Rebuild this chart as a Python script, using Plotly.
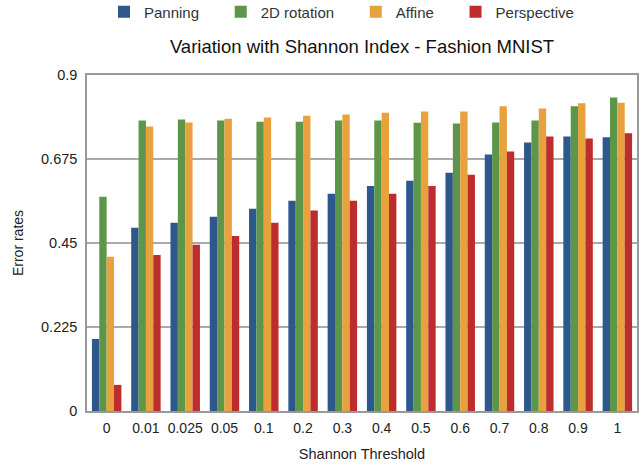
import plotly.graph_objects as go

categories = ["0", "0.01", "0.025", "0.05", "0.1", "0.2", "0.3", "0.4", "0.5", "0.6", "0.7", "0.8", "0.9", "1"]
panning = [0.193, 0.491, 0.504, 0.520, 0.542, 0.563, 0.582, 0.603, 0.617, 0.638, 0.687, 0.719, 0.735, 0.733]
rotation_2d = [0.574, 0.778, 0.781, 0.778, 0.775, 0.775, 0.778, 0.778, 0.772, 0.770, 0.773, 0.778, 0.816, 0.840]
affine = [0.413, 0.762, 0.773, 0.783, 0.786, 0.791, 0.794, 0.799, 0.802, 0.802, 0.816, 0.810, 0.824, 0.826]
perspective = [0.070, 0.418, 0.445, 0.469, 0.504, 0.537, 0.563, 0.582, 0.603, 0.633, 0.695, 0.735, 0.730, 0.744]

y_ticks = [0, 0.225, 0.45, 0.675, 0.9]
y_tick_labels = ["0", "0.225", "0.45", "0.675", "0.9"]

series = [
    ("Panning", panning, "#2E578C"),
    ("2D rotation", rotation_2d, "#5D9648"),
    ("Affine", affine, "#E7A13D"),
    ("Perspective", perspective, "#BD2D2E"),
]

font_family = "Liberation Sans, Arial, sans-serif"
pad = "\u00a0" * 4

W, H = 641, 465

fig = go.Figure()
for name, vals, color in series:
    fig.add_trace(go.Bar(
        x=categories, y=vals, name=name + pad,
        marker=dict(color=color, line=dict(width=0)),
    ))

fig.update_layout(
    width=W, height=H,
    margin=dict(l=87, r=2, t=75, b=54),
    barmode="group", bargap=0.25, bargroupgap=0,
    plot_bgcolor="white", paper_bgcolor="white",
    font=dict(family=font_family, color="#222222", size=14),
    title=dict(
        text="Variation with Shannon Index - Fashion MNIST",
        x=0.5, xref="paper", xanchor="center",
        y=1 - 47 / H, yref="container", yanchor="middle",
        font=dict(size=18.5, color="#111111"),
    ),
    legend=dict(
        orientation="h", xref="container", yref="container",
        x=104 / W, xanchor="left", y=1 - 12 / H, yanchor="middle",
        font=dict(size=15, color="#333333"),
        bgcolor="rgba(0,0,0,0)",
    ),
    xaxis=dict(
        type="category", showline=True, linecolor="#999999", linewidth=1.5,
        mirror=True, showgrid=False, ticks="", ticklabelstandoff=3,
        tickfont=dict(size=14, color="#222222"),
        title=dict(text="Shannon Threshold", font=dict(size=14.5, color="#222222"), standoff=14),
    ),
    yaxis=dict(
        range=[0, 0.9], tickvals=y_ticks, ticktext=y_tick_labels,
        showline=True, linecolor="#999999", linewidth=1.5, mirror=True,
        showgrid=True, gridcolor="#aaaaaa", gridwidth=1.5, zeroline=False,
        ticks="", ticklabelstandoff=5,
        tickfont=dict(size=14.5, color="#222222"),
        title=dict(text="Error rates", font=dict(size=14, color="#222222"), standoff=14),
    ),
)

fig.write_html(
    "out.html",
    config={"displayModeBar": False},
    post_script="document.body.style.margin='0';document.body.style.padding='0';",
)
